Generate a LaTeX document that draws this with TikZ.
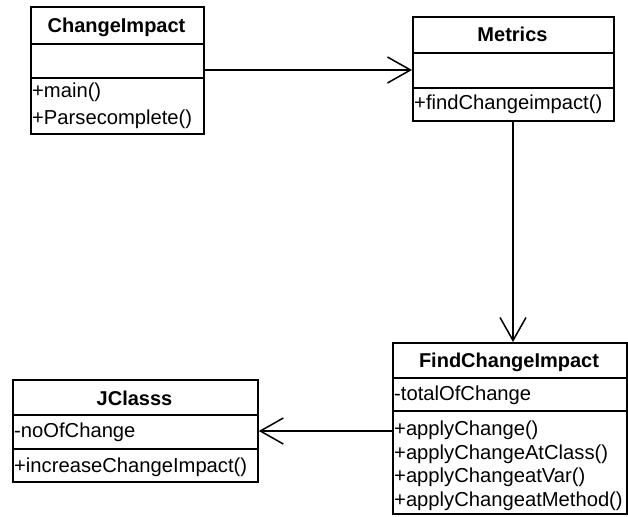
\documentclass[tikz,border=0pt]{standalone}
\usepackage{fontspec}
\setmainfont{Liberation Sans}
\usetikzlibrary{arrows.meta}
\tikzset{
  classbox/.style={draw, line width=1.8pt, rectangle, anchor=north west, inner sep=0pt},
  divider/.style={line width=1.6pt},
  title/.style={font=\fontsize{20}{24}\selectfont\bfseries, inner sep=0pt, anchor=base},
  member/.style={font=\fontsize{20.2}{24}\selectfont, inner sep=0pt, anchor=base west},
  assoc/.style={line width=1.5pt, -{Straight Barb[length=23pt, width=26pt, line width=1.5pt]}},
}
\begin{document}
\begin{tikzpicture}[x=1pt, y=-1pt]
\useasboundingbox (0,0) rectangle (628,516);

% ChangeImpact
\node[classbox, minimum width=173pt, minimum height=127pt] (ci) at (30,6) {};
\draw[divider] (ci.west |- 0,44) -- (ci.east |- 0,44);
\draw[divider] (ci.west |- 0,78) -- (ci.east |- 0,78);
\node[title] (cit) at (116.5,33) {ChangeImpact};
\node[member] (ci1) at (32,98) {+main()};
\node[member] (ci2) at (32,124) {+Parsecomplete()};

% Metrics
\node[classbox, minimum width=201pt, minimum height=104pt] (met) at (412,16) {};
\draw[divider] (met.west |- 0,53) -- (met.east |- 0,53);
\draw[divider] (met.west |- 0,88) -- (met.east |- 0,88);
\node[title] (mett) at (512.5,42) {Metrics};
\node[member] (met1) at (414,110) {+findChangeimpact()};

% FindChangeImpact
\node[classbox, minimum width=234pt, minimum height=171pt] (fci) at (392,342) {};
\draw[divider] (fci.west |- 0,378) -- (fci.east |- 0,378);
\draw[divider] (fci.west |- 0,411) -- (fci.east |- 0,411);
\node[title] (fcit) at (509,367) {FindChangeImpact};
\node[member] (fcia) at (394,400) {-totalOfChange};
\node[member] (fci1) at (394,435.5) {+applyChange()};
\node[member] (fci2) at (394,459) {+applyChangeAtClass()};
\node[member] (fci3) at (394,482.5) {+applyChangeatVar()};
\node[member] (fci4) at (394,506) {+applyChangeatMethod()};

% JClasss
\node[classbox, minimum width=245pt, minimum height=102pt] (jc) at (12,379) {};
\draw[divider] (jc.west |- 0,415) -- (jc.east |- 0,415);
\draw[divider] (jc.west |- 0,449) -- (jc.east |- 0,449);
\node[title] (jct) at (134.5,405) {JClasss};
\node[member] (jca) at (14,437) {-noOfChange};
\node[member] (jc1) at (14,472) {+increaseChangeImpact()};

% associations
\coordinate (drop) at (513,0);
\draw[assoc] (ci.east |- 0,70) -- (met.west |- 0,70);
\draw[assoc] (met.south -| drop) -- (fci.north -| drop);
\draw[assoc] (fci.west |- 0,431) -- (jc.east |- 0,431);
\end{tikzpicture}
\end{document}
